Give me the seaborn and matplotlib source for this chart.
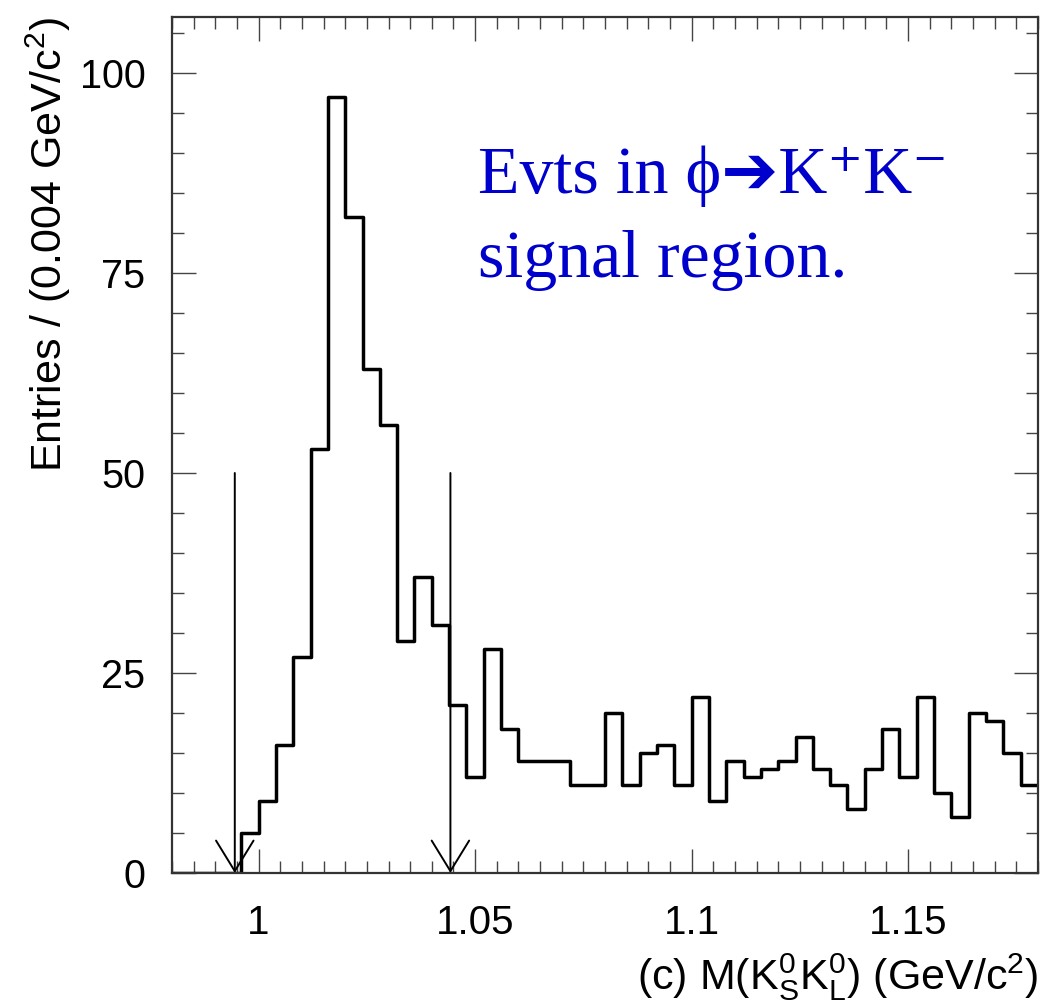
import matplotlib
matplotlib.use("Agg")
import numpy as np
import pandas as pd
import matplotlib.pyplot as plt
import seaborn as sns
from matplotlib.ticker import MultipleLocator, FixedLocator
from matplotlib import font_manager as fm

# ---------------- data ----------------
x_min, x_max, bin_width = 0.98, 1.18, 0.004
counts = [0, 0, 0, 0, 5, 9, 16, 27, 53, 97,
          82, 63, 56, 29, 37, 31, 21, 12, 28, 18,
          14, 14, 14, 11, 11, 20, 11, 15, 16, 11,
          22, 9, 14, 12, 13, 14, 17, 13, 11, 8,
          13, 18, 12, 22, 10, 7, 20, 19, 15, 11]
arrow_positions = [0.9945, 1.0443]
arrow_top = 50
x_ticks = [1.0, 1.05, 1.1, 1.15]
x_tick_labels = ["1", "1.05", "1.1", "1.15"]
y_ticks = [0, 25, 50, 75, 100]
y_tick_labels = ["0", "25", "50", "75", "100"]
x_label = r"(c) M(K$^0_S$K$^0_L$) (GeV/c$^2$)"
y_label = r"Entries / (0.004 GeV/c$^2$)"
note_line1 = "Evts in ϕ➔K⁺K⁻"
note_line2 = "signal region."

n_bins = len(counts)
centers = x_min + (np.arange(n_bins) + 0.5) * bin_width
df = pd.DataFrame({"mass": centers, "n": counts})

# ---------------- fonts ----------------
available = {f.name for f in fm.fontManager.ttflist}
def pick(prefs):
    for p in prefs:
        if p in available:
            return p
    return "DejaVu Sans"
sans = pick(["Liberation Sans", "Arial", "Nimbus Sans", "DejaVu Sans"])
serif = pick(["Liberation Serif", "Times New Roman", "DejaVu Serif"])

sns.set_theme(style="ticks")
plt.rcParams["font.family"] = [sans, "DejaVu Sans"]
plt.rcParams["mathtext.fontset"] = "custom"
plt.rcParams["mathtext.rm"] = sans
plt.rcParams["mathtext.it"] = sans
plt.rcParams["mathtext.sf"] = sans
plt.rcParams["text.color"] = "black"
plt.rcParams["axes.labelcolor"] = "black"
plt.rcParams["xtick.color"] = "black"
plt.rcParams["ytick.color"] = "black"

W, H = 1055, 1008
fig = plt.figure(figsize=(W / 100, H / 100), dpi=100)
ax = fig.add_axes([172 / W, (H - 873) / H, (1038 - 172) / W, (873 - 17) / H])

sns.histplot(data=df, x="mass", weights="n", bins=n_bins,
             binrange=(x_min, x_max), element="step",
             fill=False, color="black", linewidth=2.5, ax=ax)

for xa in arrow_positions:
    ax.annotate("", xy=(xa, 0), xytext=(xa, arrow_top),
                arrowprops=dict(arrowstyle="->,head_length=2.2,head_width=1.35",
                                lw=1.4, color="black", shrinkA=0, shrinkB=0,
                                mutation_scale=10),
                zorder=5)

ax.set_xlim(x_min, x_max)
ax.set_ylim(0, 107)
ax.xaxis.set_major_locator(FixedLocator(x_ticks))
ax.set_xticklabels(x_tick_labels)
ax.yaxis.set_major_locator(FixedLocator(y_ticks))
ax.set_yticklabels(y_tick_labels)
ax.xaxis.set_minor_locator(MultipleLocator(0.005))
ax.yaxis.set_minor_locator(MultipleLocator(5))

ax.tick_params(which="both", direction="in", top=True, right=True,
               color="#444444", width=1.0, labelcolor="black")
ax.tick_params(which="major", length=17)
ax.tick_params(which="minor", length=8.5)
ax.tick_params(axis="x", which="major", pad=22, labelsize=29)
ax.tick_params(axis="y", which="major", pad=19, labelsize=28.5)

for s in ax.spines.values():
    s.set_visible(True)
    s.set_linewidth(1.6)
    s.set_color("#333333")

ax.set_xlabel(x_label, loc="right", fontsize=31, labelpad=7)
ax.set_ylabel(y_label, loc="top", fontsize=31, labelpad=5)

fig.text(478 / W, 1 - 193 / H, note_line1, ha="left", va="baseline",
         fontsize=49, color="#0000CC", family=[serif, "DejaVu Serif", "DejaVu Sans"])
fig.text(478 / W, 1 - 277 / H, note_line2, ha="left", va="baseline",
         fontsize=49, color="#0000CC", family=[serif, "DejaVu Serif", "DejaVu Sans"])

fig.savefig("out.png", dpi=100, facecolor="white")
